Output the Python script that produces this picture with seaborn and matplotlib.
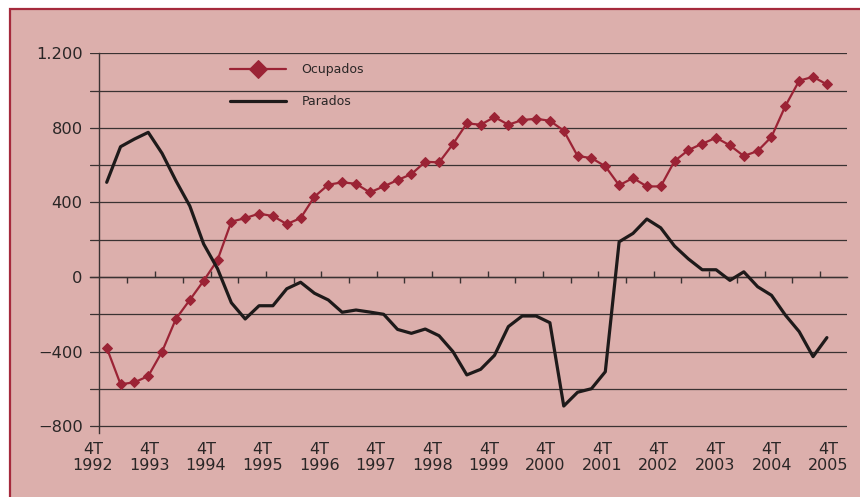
import matplotlib
matplotlib.use("Agg")
import matplotlib.pyplot as plt
from matplotlib.patches import Rectangle
from matplotlib.ticker import MultipleLocator, FuncFormatter
import numpy as np
import pandas as pd
import seaborn as sns

# variacion interanual en miles, trimestres 4T 1992 ... 4T 2005
ocupados = [-379, -575, -565, -531, -400, -224, -123, -20, 91, 297,
            316, 340, 327, 284, 316, 431, 495, 508, 500, 454,
            486, 520, 552, 618, 615, 713, 824, 817, 858, 817,
            842, 849, 838, 785, 649, 638, 594, 492, 531, 486,
            486, 622, 681, 715, 747, 706, 649, 676, 752, 917,
            1053, 1074, 1033]
parados = [508, 699, 740, 776, 663, 516, 381, 177, 45, -138,
           -225, -154, -154, -63, -28, -87, -123, -189, -177, -188,
           -200, -281, -302, -279, -315, -400, -525, -495, -420, -266,
           -209, -209, -245, -692, -618, -599, -508, 189, 234, 311,
           264, 166, 97, 39, 39, -18, 28, -52, -98, -204,
           -293, -427, -325]
years = list(range(1992, 2006))
year_labels = ["4T\n%d" % y for y in years]

PINK = "#DCAFAC"
RED = "#9B2335"
BORDER = "#A52A3C"
GRID = "#3a3232"
TXT = "#2a2626"

df = pd.DataFrame({"trimestre": np.arange(len(ocupados)),
                   "Ocupados": ocupados, "Parados": parados})

sns.set_style("white")
plt.rcParams["font.family"] = ["DejaVu Sans"]

fig = plt.figure(figsize=(8.6, 4.97), dpi=100)
# fondo rosa con borde
fig.patches.append(Rectangle((10 / 860, -0.1), 1.2, 1 - 9 / 497 + 0.1,
                             transform=fig.transFigure, facecolor=PINK,
                             edgecolor=BORDER, lw=1.6, zorder=-10))
ax = fig.add_axes([90 / 860, 1 - 432.7 / 497, (846.7 - 90) / 860, (432.7 - 53.3) / 497])
ax.set_facecolor("none")
ax.set_zorder(1)

sns.lineplot(data=df, x="trimestre", y="Ocupados", ax=ax, color=RED, lw=1.6,
             marker="D", markersize=5.2, markeredgecolor=RED, label="Ocupados")
sns.lineplot(data=df, x="trimestre", y="Parados", ax=ax, color="#1e1a1a",
             lw=2.3, label="Parados")

ax.set_xlim(-1.206, 53.43)
ax.set_ylim(-835, 1200)
ax.set_xlabel("")
ax.set_ylabel("")

# eje Y
ax.yaxis.set_major_locator(MultipleLocator(400))
ax.yaxis.set_minor_locator(MultipleLocator(200))
ax.yaxis.set_major_formatter(FuncFormatter(
    lambda v, p: f"{v:,.0f}".replace(",", ".").replace("-", "\u2212")))
ax.grid(True, axis="y", which="both", color=GRID, lw=0.9)
ax.grid(False, axis="x")
for s in ["top", "right", "bottom"]:
    ax.spines[s].set_visible(False)
ax.spines["left"].set_position(("data", -0.56))
ax.spines["left"].set_color(GRID)
ax.spines["left"].set_linewidth(1)
ax.tick_params(axis="y", which="both", length=0, pad=11.7, labelsize=11.7, labelcolor=TXT)

# etiquetas de años abajo
ax.set_xticks(np.linspace(-1, 52.1, len(years)), year_labels)
ax.tick_params(axis="x", length=0, pad=6.5, labelsize=11.5, labelcolor=TXT)
for lbl in ax.get_xticklabels():
    lbl.set_linespacing(1.1)

# linea del cero con marcas
ymin, ymax = ax.get_ylim()
sec = ax.secondary_xaxis((0 - ymin) / (ymax - ymin))
sec.set_ticks(np.arange(3.5, 53, 4))
sec.set_ticks(np.arange(1.5, 53, 4), minor=True)
sec.tick_params(which="major", direction="in", length=4.5, width=1, color=GRID, labelbottom=False)
sec.tick_params(which="minor", direction="out", length=4, width=1, color=GRID, labelbottom=False)
sec.spines["bottom"].set_color(GRID)
sec.spines["bottom"].set_linewidth(1)

ax.legend(loc="upper left", bbox_to_anchor=(0.2604, 0.885), bbox_transform=fig.transFigure,
          frameon=False, fontsize=9, handlelength=4.5, handletextpad=1.2,
          labelspacing=1.5, borderpad=0, markerscale=1.7, labelcolor=TXT)

fig.savefig("out.png", dpi=100)
